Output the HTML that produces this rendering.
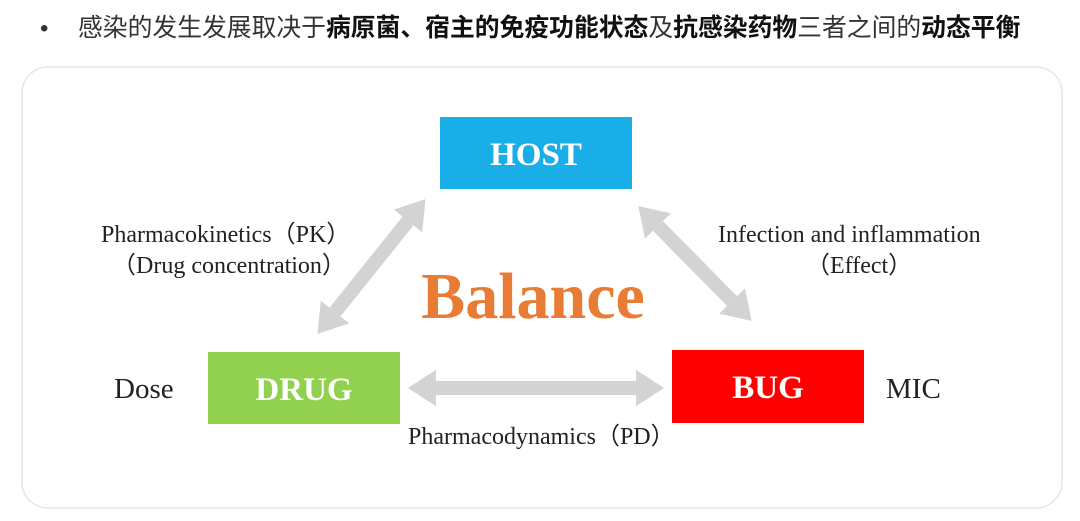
<!DOCTYPE html>
<html><head><meta charset="utf-8"><style>
body{margin:0;background:#fff;width:1080px;height:521px;overflow:hidden;position:relative;font-family:"Liberation Sans","Noto Sans CJK SC",sans-serif}
.b{position:absolute;left:40px;top:13px;font-size:24px;color:#333;line-height:32px}
.h{position:absolute;left:78px;top:13px;font-size:24.8px;color:#333;white-space:nowrap;line-height:32px}
.h b{color:#111}
</style></head><body>
<div class="b">•</div>
<div class="h">感染的发生发展取决于<b>病原菌、宿主的免疫功能状态</b>及<b>抗感染药物</b>三者之间的<b>动态平衡</b></div>
<svg width="1080" height="521" style="position:absolute;left:0;top:0">
<defs>
<marker id="a" markerWidth="2" markerHeight="2.6" refX="0" refY="1.3" orient="auto-start-reverse" markerUnits="strokeWidth">
<path d="M0,0 L2,1.3 L0,2.6 Z" fill="#d3d3d3"/></marker>
</defs>
<rect x="22" y="67" width="1040" height="441" rx="26" fill="#fff" stroke="#e6e6e6" stroke-width="1.5"/>
<g stroke="#d3d3d3" stroke-width="14" fill="none">
<line x1="335" y1="312" x2="408" y2="221" marker-start="url(#a)" marker-end="url(#a)"/>
<line x1="658" y1="226" x2="732" y2="301" marker-start="url(#a)" marker-end="url(#a)"/>
<line x1="436" y1="388" x2="636" y2="388" marker-start="url(#a)" marker-end="url(#a)"/>
</g>
<rect x="440" y="117" width="192" height="72" fill="#1aaee8"/>
<rect x="208" y="352" width="192" height="72" fill="#92d050"/>
<rect x="672" y="350" width="192" height="73" fill="#ff0000"/>
<g font-family="Liberation Serif,serif" font-weight="bold" fill="#fff" font-size="33" text-anchor="middle">
<text x="536" y="165">HOST</text>
<text x="304" y="400">DRUG</text>
<text x="768" y="398">BUG</text>
</g>
<text x="533" y="318" font-family="Liberation Serif,serif" font-weight="bold" font-size="66" fill="#e87c34" text-anchor="middle">Balance</text>
<g font-family="Liberation Serif,serif" font-size="24" fill="#222">
<text x="101" y="242">Pharmacokinetics（PK）</text>
<text x="112" y="273">（Drug concentration）</text>
<text x="718" y="242">Infection and inflammation</text>
<text x="806" y="273">（Effect）</text>
<text x="114" y="398" font-size="29">Dose</text>
<text x="886" y="398" font-size="29">MIC</text>
<text x="408" y="444">Pharmacodynamics（PD）</text>
</g>
</svg>
</body></html>
